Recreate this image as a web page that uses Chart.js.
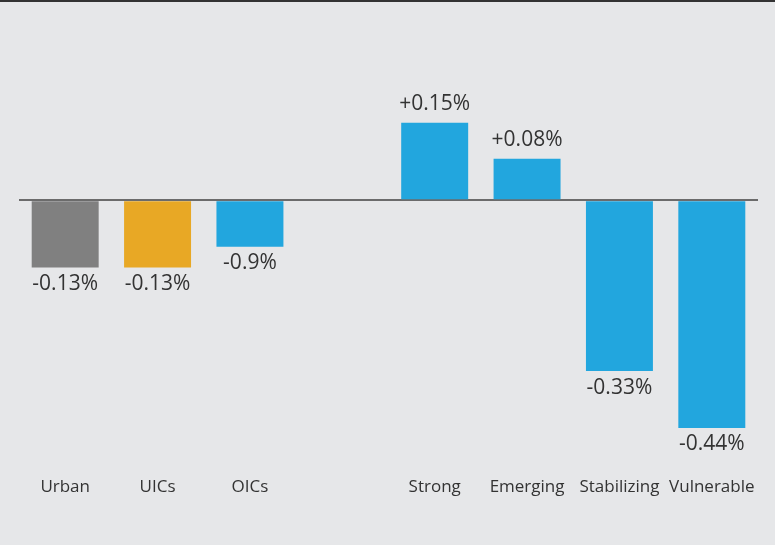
<!DOCTYPE html>
<html>
<head>
<meta charset="utf-8">
<script src="https://cdn.jsdelivr.net/npm/chart.js@4"></script>
<style>
  html, body { margin: 0; padding: 0; background: #e6e7e9; }
  #wrap { width: 775px; height: 545px; }
</style>
</head>
<body>
<div id="wrap"><canvas id="changeChart" width="775" height="545"></canvas></div>
<script>
// categories (empty slot separates the two groups)
var categories = ['Urban', 'UICs', 'OICs', '', 'Strong', 'Emerging', 'Stabilizing', 'Vulnerable'];
// change in percentage points
var changes = [-0.13, -0.13, -0.09, null, 0.15, 0.08, -0.33, -0.44];
// text printed on each bar
var valueLabels = ['-0.13%', '-0.13%', '-0.9%', '', '+0.15%', '+0.08%', '-0.33%', '-0.44%'];

var barColors = ['#808080', '#e8a825', '#22a6de', '#22a6de', '#22a6de', '#22a6de', '#22a6de', '#22a6de'];
var FONT = '"Open Sans", "DejaVu Sans", sans-serif';

// background + thin rule along the top edge
var backdrop = {
    id: 'backdrop',
    beforeDraw: function (chart) {
        var c = chart.ctx;
        c.save();
        c.fillStyle = '#e6e7e9';
        c.fillRect(0, 0, chart.width, chart.height);
        c.fillStyle = '#333333';
        c.fillRect(0, 0, chart.width, 2);
        c.restore();
    }
};

// value text below negative bars, above positive ones
var valueText = {
    id: 'valueText',
    afterDatasetsDraw: function (chart) {
        var c = chart.ctx;
        var meta = chart.getDatasetMeta(0);
        c.save();
        c.font = '21px ' + FONT;
        c.fillStyle = '#333333';
        c.textAlign = 'center';
        meta.data.forEach(function (bar, i) {
            var v = changes[i];
            if (v === null || !valueLabels[i]) return;
            if (v < 0) {
                c.textBaseline = 'top';
                c.fillText(valueLabels[i], bar.x, bar.y + 6);
            } else {
                c.textBaseline = 'alphabetic';
                c.fillText(valueLabels[i], bar.x, bar.y - 13);
            }
        });
        c.restore();
    }
};

new Chart(document.getElementById('changeChart').getContext('2d'), {
    type: 'bar',
    data: {
        labels: categories,
        datasets: [{
            data: changes,
            backgroundColor: barColors,
            borderWidth: 0,
            barPercentage: 0.725,
            categoryPercentage: 1
        }]
    },
    options: {
        responsive: false,
        animation: false,
        layout: { padding: { top: 45, left: 19, right: 17, bottom: 0 } },
        plugins: {
            legend: { display: false },
            tooltip: { enabled: false }
        },
        scales: {
            x: {
                grid: { display: false, drawTicks: false },
                border: { display: false },
                ticks: {
                    padding: 18,
                    color: '#333333',
                    font: { family: FONT, size: 17 },
                    maxRotation: 0,
                    autoSkip: false
                },
                afterFit: function (scale) { scale.height = 86; }
            },
            y: {
                min: -0.5,
                max: 0.3,
                ticks: { display: false, stepSize: 0.1 },
                border: { display: false },
                grid: {
                    drawTicks: false,
                    color: function (ctx) { return ctx.tick && Math.abs(ctx.tick.value) < 1e-9 ? '#6b6b6b' : 'rgba(0,0,0,0)'; },
                    lineWidth: 2
                },
                afterFit: function (scale) { scale.width = 0; }
            }
        }
    },
    plugins: [backdrop, valueText]
});
</script>
</body>
</html>
